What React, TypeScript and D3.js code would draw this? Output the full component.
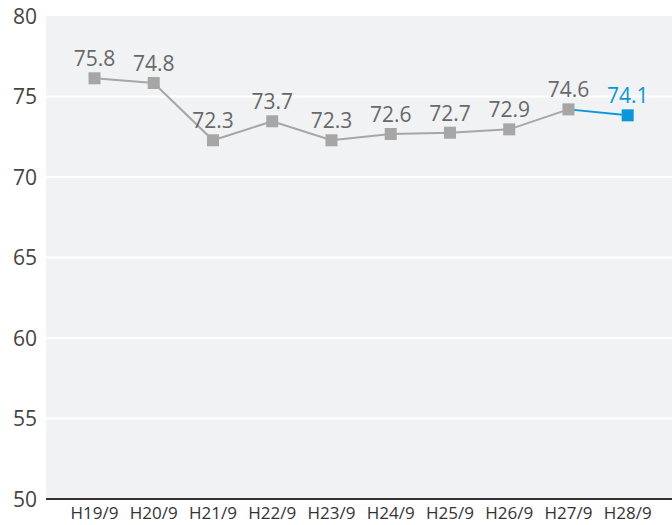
import React from "react";
import * as d3 from "d3";

const categories = ["H19/9", "H20/9", "H21/9", "H22/9", "H23/9", "H24/9", "H25/9", "H26/9", "H27/9", "H28/9"];
// marker positions
const values = [76.13, 75.84, 72.28, 73.46, 72.28, 72.67, 72.75, 72.96, 74.2, 73.83];
// printed data labels
const labels = ["75.8", "74.8", "72.3", "73.7", "72.3", "72.6", "72.7", "72.9", "74.6", "74.1"];
const yTicks = [50, 55, 60, 65, 70, 75, 80];

const W = 672;
const H = 525;
const plotLeft = 46;
const plotTop = 16;
const plotBottom = 499;
const font = "'Open Sans', 'Noto Sans', sans-serif";
const grey = "#a6a6a6";
const blue = "#0a97d9";

export default function App() {
  const x = d3.scalePoint<string>().domain(categories).range([94.5, 627.7]);
  const y = d3.scaleLinear().domain([50, 80]).range([plotBottom, plotTop]);
  const pts = categories.map((c, i) => [x(c)!, y(values[i])] as [number, number]);
  const line = d3.line();
  const last = categories.length - 1;

  return (
    <svg width={W} height={H} style={{ position: "absolute", left: 0, top: 0 }}>
      <rect x={plotLeft} y={plotTop} width={W - plotLeft} height={plotBottom - plotTop} fill="#f1f2f4" />
      {yTicks.map((t) => (
        <g key={t}>
          {t !== 50 && t !== 80 && (
            <line x1={plotLeft} x2={W} y1={y(t)} y2={y(t)} stroke="#ffffff" strokeWidth={2} />
          )}
          <text x={37} y={y(t)} dy="0.36em" textAnchor="end" fontFamily={font} fontSize={21} fill="#444">
            {t}
          </text>
        </g>
      ))}
      <line x1={plotLeft} x2={W} y1={plotBottom} y2={plotBottom} stroke="#333" strokeWidth={2} />
      {categories.map((c) => (
        <text key={c} x={x(c)} y={519} textAnchor="middle" fontFamily={font} fontSize={17} fill="#333">
          {c}
        </text>
      ))}
      <path d={line(pts.slice(0, last))!} fill="none" stroke={grey} strokeWidth={2} />
      <path d={line(pts.slice(last - 1))!} fill="none" stroke={blue} strokeWidth={2} />
      {pts.map(([px, py], i) => (
        <rect key={i} x={px - 6} y={py - 6} width={12} height={12} fill={i === last ? blue : grey} />
      ))}
      {pts.map(([px, py], i) => (
        <text
          key={"l" + i}
          x={px}
          y={py - 12}
          textAnchor="middle"
          fontFamily={font}
          fontSize={21}
          fontWeight={500}
          fill={i === last ? blue : "#686868"}
        >
          {labels[i]}
        </text>
      ))}
    </svg>
  );
}
